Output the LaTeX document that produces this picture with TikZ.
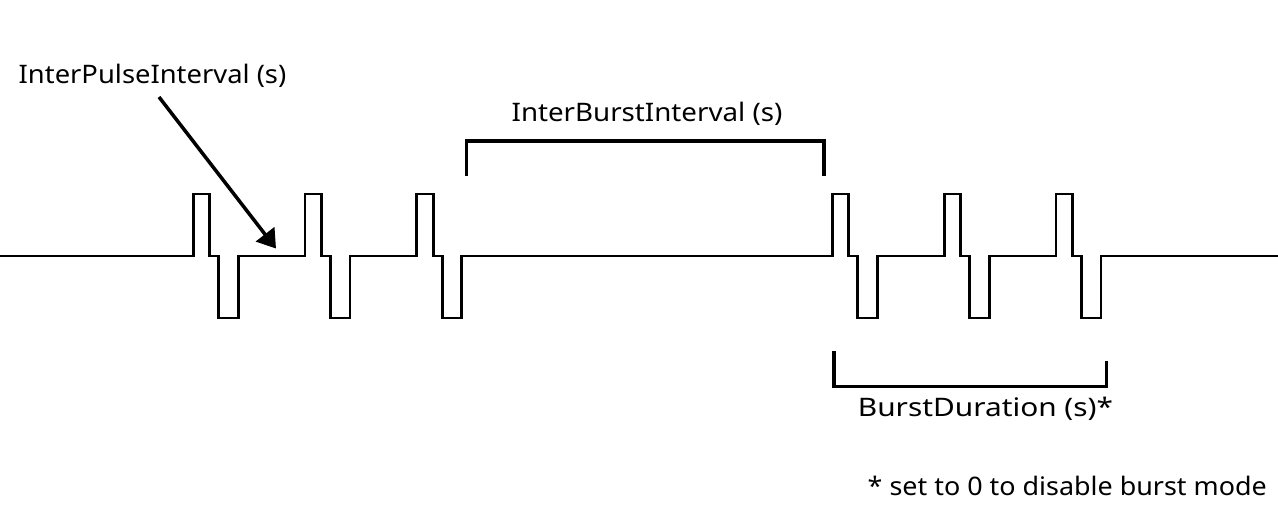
\documentclass[tikz,border=0pt]{standalone}
\usepackage{fontspec}
\setmainfont{Noto Sans}
\usetikzlibrary{arrows.meta}
\begin{document}
\begin{tikzpicture}[x=1pt,y=-1pt,
  lbl/.style={anchor=base,inner sep=0pt,font=\fontsize{25.5}{30}\selectfont},
  wave/.style={line width=2.7pt,line join=miter},
  brk/.style={line width=3.5pt,line cap=butt,line join=miter},
  ptr/.style={line width=3.5pt,-{Triangle[length=18pt,width=23pt]}}]
\useasboundingbox (0,0) rectangle (1278,506);
% waveform
\draw[wave] (0,256) foreach \p in {193.3,305,416.7,832.3,944.3,1056} {
  -- (\p,256) -- ++(0,-62) -- ++(16.5,0) -- ++(0,62) -- ++(9,0) -- ++(0,62) -- ++(19.5,0) -- ++(0,-62)
} -- (1278,256);
% labels
\node[lbl] (ipi) at (152.5,83.5) {\scalebox{1.073}[1]{InterPulseInterval (s)}};
\node[lbl] (ibi) at (647,121.5) {\scalebox{1.086}[1]{InterBurstInterval (s)}};
\node[lbl] (bd) at (985.5,416) {\scalebox{1.17}[1]{BurstDuration (s)*}};
\node[lbl,anchor=base east] (note) at (1267,495) {\scalebox{1.055}[1]{* set to 0 to disable burst mode}};
% arrow
\coordinate (aS) at (159,97);
\coordinate (aT) at (276,248.5);
\draw[ptr] (aS) -- (aT);
% brackets
\coordinate (b1a) at (466.7,176);
\coordinate (b1b) at (824,176);
\draw[brk] (b1a) -- (466.7,141) -- (824,141) -- (b1b);
\coordinate (b2a) at (834,351);
\coordinate (b2b) at (1106.7,361);
\draw[brk] (b2a) -- (834,386.7) -- (1106.7,386.7) -- (b2b);
\end{tikzpicture}
\end{document}
